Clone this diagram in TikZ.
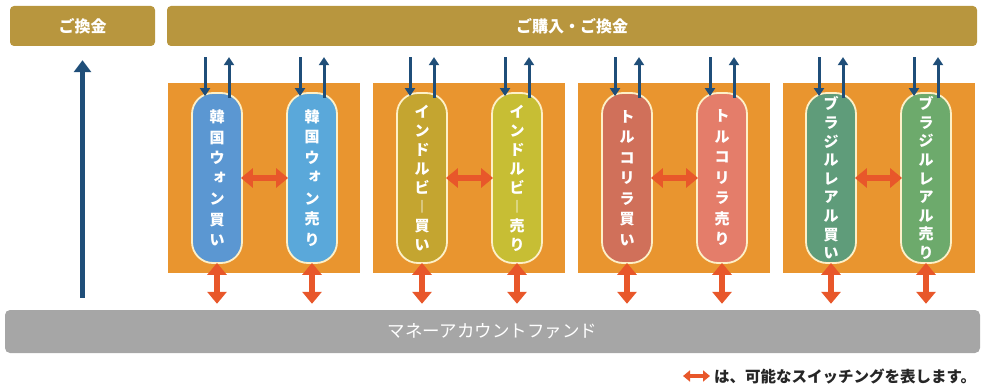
\documentclass[tikz,border=0pt]{standalone}
\usepackage{fontspec}
\setmainfont{Noto Sans CJK JP}
\newfontfamily\vjp{Noto Sans CJK JP}
\usetikzlibrary{arrows.meta,calc}

\definecolor{goldbar}{HTML}{B8963E}
\definecolor{grporange}{HTML}{E9952F}
\definecolor{mfgray}{HTML}{A6A6A6}
\definecolor{navy}{HTML}{1F4E79}
\definecolor{swred}{HTML}{E8572A}
\definecolor{cream}{HTML}{FDF0C8}
\definecolor{kbuy}{HTML}{5B97D2}
\definecolor{ksell}{HTML}{5AA8DA}
\definecolor{ibuy}{HTML}{C4A530}
\definecolor{isell}{HTML}{C7BE34}
\definecolor{tbuy}{HTML}{D0705A}
\definecolor{tsell}{HTML}{E47D6A}
\definecolor{bbuy}{HTML}{5F9C7A}
\definecolor{bsell}{HTML}{6DAA6C}

\newcommand\vsmall[1]{\raisebox{3pt}{\hspace*{5pt}#1}}

\tikzset{
  bar/.style={fill=goldbar, rounded corners=4pt, text=white, minimum height=40pt,
    font=\bfseries\fontsize{16}{16}\selectfont},
  grp/.style={fill=grporange, minimum width=192pt, minimum height=190pt},
  pill/.style={draw=cream, line width=1.8pt, rounded corners=21pt, minimum width=50pt,
    minimum height=170pt, inner sep=0pt, text=white, align=center},
  vtxt/.style={font=\vjp\bfseries\fontsize{15}{#1}\selectfont},
  inarr/.style={navy, line width=3pt, -{Triangle[width=10pt,length=8pt]}},
  sw/.style={swred, line width=6.5pt, {Triangle[width=19pt,length=12pt]}-{Triangle[width=19pt,length=12pt]}}
}

\begin{document}
\begin{tikzpicture}[x=1pt, y=-1pt]
		\useasboundingbox (0,0) rectangle (984,387);
		\node[bar, minimum width=145pt] (ex) at (82.5,26) {ご換金};
		\node[bar, minimum width=810pt] (buy) at (572,26) {ご購入・ご換金};
		\node[fill=mfgray, rounded corners=5pt, minimum width=975pt, minimum height=43pt, text=white,
		  font=\fontsize{17.5}{17.5}\selectfont] (mrf) at (492.5,331.5) {マネーアカウントファンド};
		\node[grp] (g1) at (264,178) {};
		\node[grp] (g2) at (469,178) {};
		\node[grp] (g3) at (673.5,178) {};
		\node[grp] (g4) at (879,178) {};
		\node[pill, fill=kbuy, vtxt=20.5] (kb) at (217,178) {韓\\国\\ウ\\\vsmall{ォ}\\ン\\買\\い};
		\node[pill, fill=ksell, vtxt=20.5] (ks) at (312,178) {韓\\国\\ウ\\\vsmall{ォ}\\ン\\売\\り};
		\node[pill, fill=ibuy, vtxt=19] (ib) at (422,178) {イ\\ン\\ド\\ル\\ビ\\︱\\買\\い};
		\node[pill, fill=isell, vtxt=19] (is) at (517,178) {イ\\ン\\ド\\ル\\ビ\\︱\\売\\り};
		\node[pill, fill=tbuy, vtxt=20.5] (tb) at (627,178) {ト\\ル\\コ\\リ\\ラ\\買\\い};
		\node[pill, fill=tsell, vtxt=20.5] (ts) at (722,178) {ト\\ル\\コ\\リ\\ラ\\売\\り};
		\node[pill, fill=bbuy, vtxt=18.6] (bb) at (831,178) {ブ\\ラ\\ジ\\ル\\レ\\ア\\ル\\買\\い};
		\node[pill, fill=bsell, vtxt=18.6] (bs) at (926,178) {ブ\\ラ\\ジ\\ル\\レ\\ア\\ル\\売\\り};
		\foreach \k in {kb,ks,ib,is,tb,ts,bb,bs} {
		  \draw[inarr] ($(\k.north)+(-12,-35)$) -- ($(\k.north)+(-12,4)$);
		  \draw[inarr] ($(\k.north)+(12,6)$) -- ($(\k.north)+(12,-35)$);
		  \draw[sw] ($(\k.south)+(0,-1)$) -- ($(\k.south |- mrf.north)+(0,-6)$);
		}
		\foreach \a/\b in {kb/ks,ib/is,tb/ts,bb/bs}
		  \draw[sw] ($(\a.east)+(-2,0)$) -- ($(\b.west)+(2,0)$);
		\draw[navy, line width=5pt, -{Triangle[width=17pt,length=12pt]}] ($(mrf.north -| ex.south)+(0,-12)$) -- ($(ex.south)+(0,14)$);
		\node[anchor=west, text=black!85, font=\bfseries\fontsize{15.5}{15.5}\selectfont, inner sep=0pt] (note) at (714,376) {は、可能なスイッチングを表します。};
		\coordinate (lg) at (683,376);
		\draw[swred, line width=4pt, {Triangle[width=11pt,length=7pt]}-{Triangle[width=11pt,length=7pt]}] (lg) -- ($(note.west)+(-4,0)$);
\end{tikzpicture}
\end{document}
